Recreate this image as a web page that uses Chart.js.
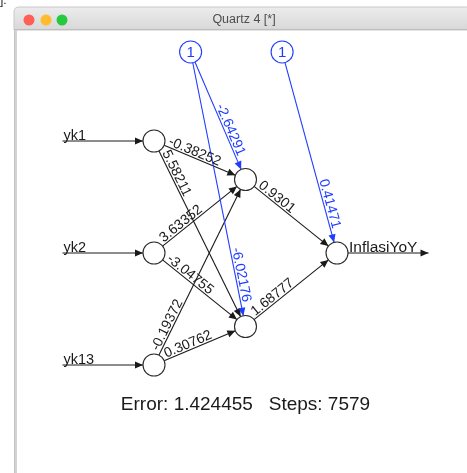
<!DOCTYPE html>
<html>
<head>
<meta charset="utf-8">
<script src="https://cdn.jsdelivr.net/npm/chart.js@4/dist/chart.umd.min.js"></script>
<style>
html,body{margin:0;padding:0;background:#fff;overflow:hidden;}
canvas{display:block;}
</style>
</head>
<body>
<canvas id="c" width="467" height="473"></canvas>
<script>
// ---- data ----
const inputNames = ['yk1', 'yk2', 'yk13'];
const outputNames = ['InflasiYoY'];
const hiddenCount = 2;
// weights[input][hidden]
const weightsInputHidden = [
  [-0.38252, 5.58211],
  [3.63352, -3.04755],
  [-0.19372, 0.30762]
];
const biasHidden = [-2.64291, -6.02176];
const weightsHiddenOutput = [0.9301, 1.68777];
const biasOutput = [0.41471];
const errorValue = 1.424455;
const stepsValue = 7579;
const windowTitle = 'Quartz 4 [*]';

// ---- layout (in layer / row units) ----
const interceptFactor = 0.4;
const hiddenSpacing = 1.3126;
const biasRow = -0.795;
function layerRows(n, spacing, center) {
  const rows = [];
  for (let i = 0; i < n; i++) rows.push(center + (i - (n - 1) / 2) * spacing);
  return rows;
}
const inputRows = layerRows(inputNames.length, 1, 1);
const hiddenRows = layerRows(hiddenCount, hiddenSpacing, 1);
const outputRows = layerRows(outputNames.length, 1, 1);

const NODE_R = 11;
const BLUE = '#1f3dff';
const INK = '#1a1a1a';
const FONT = '"Liberation Sans", Arial, Helvetica, sans-serif';

const inputPts = inputRows.map(r => ({x: 0, y: r}));
const hiddenPts = hiddenRows.map(r => ({x: 1, y: r}));
const outputPts = outputRows.map(r => ({x: 2, y: r}));
const biasPts = [{x: interceptFactor, y: biasRow}, {x: 1 + interceptFactor, y: biasRow}];

// edges: [fromPoint, toPoint, weight, isBias]
const edges = [];
inputPts.forEach((p, i) => hiddenPts.forEach((h, j) => edges.push([p, h, weightsInputHidden[i][j], false])));
hiddenPts.forEach((h, j) => outputPts.forEach((o) => edges.push([h, o, weightsHiddenOutput[j], false])));
hiddenPts.forEach((h, j) => edges.push([biasPts[0], h, biasHidden[j], true]));
outputPts.forEach((o, k) => edges.push([biasPts[1], o, biasOutput[k], true]));

function arrowHead(ctx, x, y, ang, color) {
  const L = 8, W = 3.6;
  ctx.save();
  ctx.translate(x, y);
  ctx.rotate(ang);
  ctx.beginPath();
  ctx.moveTo(0, 0);
  ctx.lineTo(-L, -W);
  ctx.lineTo(-L, W);
  ctx.closePath();
  ctx.fillStyle = color;
  ctx.fill();
  ctx.restore();
}
function arrowLine(ctx, x1, y1, x2, y2, color) {
  ctx.save();
  ctx.strokeStyle = color;
  ctx.lineWidth = 1.1;
  ctx.beginPath();
  ctx.moveTo(x1, y1);
  ctx.lineTo(x2, y2);
  ctx.stroke();
  ctx.restore();
  arrowHead(ctx, x2, y2, Math.atan2(y2 - y1, x2 - x1), color);
}

const chromePlugin = {
  id: 'chrome',
  beforeDraw(chart) {
    const ctx = chart.ctx;
    const W = chart.width, H = chart.height;
    ctx.save();
    ctx.fillStyle = '#ffffff';
    ctx.fillRect(0, 0, W, H);
    // stray text at the top-left corner
    ctx.fillStyle = '#222';
    ctx.font = '12px ' + FONT;
    ctx.textBaseline = 'alphabetic';
    ctx.fillText(']:', 0, 4);
    // window title bar
    const left = 14, top = 7, barB = 30, rad = 5;
    const g = ctx.createLinearGradient(0, top, 0, barB);
    g.addColorStop(0, '#ececec');
    g.addColorStop(1, '#d8d8d8');
    ctx.beginPath();
    ctx.moveTo(left, barB);
    ctx.lineTo(left, top + rad);
    ctx.quadraticCurveTo(left, top, left + rad, top);
    ctx.lineTo(W + 2, top);
    ctx.lineTo(W + 2, barB);
    ctx.closePath();
    ctx.fillStyle = g;
    ctx.fill();
    ctx.strokeStyle = '#c9c9c9';
    ctx.lineWidth = 1;
    ctx.stroke();
    ctx.fillStyle = '#bdbdbd';
    ctx.fillRect(left, barB - 1, W, 1);
    // left frame
    ctx.fillStyle = '#d3d3d3';
    ctx.fillRect(left, barB, 3, H - barB);
    ctx.fillStyle = '#c4c4c4';
    ctx.fillRect(left, barB, 1, H - barB);
    // traffic lights
    [['#fe5f57', 29], ['#febc2e', 46], ['#28c840', 62]].forEach(([c, x]) => {
      ctx.beginPath();
      ctx.arc(x, 20, 5.5, 0, Math.PI * 2);
      ctx.fillStyle = c;
      ctx.fill();
    });
    ctx.fillStyle = '#4d4d4d';
    ctx.font = '12.5px ' + FONT;
    ctx.textAlign = 'center';
    ctx.textBaseline = 'middle';
    ctx.fillText(windowTitle, 244, 20);
    ctx.restore();
  },
  beforeDatasetsDraw(chart) {
    const ctx = chart.ctx;
    const xs = chart.scales.x, ys = chart.scales.y;
    const P = p => [xs.getPixelForValue(p.x), ys.getPixelForValue(p.y)];
    // synapses
    edges.forEach(([a, b, w, isBias]) => {
      const [x1, y1] = P(a), [x2, y2] = P(b);
      const dx = x2 - x1, dy = y2 - y1, len = Math.hypot(dx, dy);
      const ux = dx / len, uy = dy / len;
      const col = isBias ? BLUE : INK;
      arrowLine(ctx, x1 + ux * NODE_R, y1 + uy * NODE_R, x2 - ux * NODE_R, y2 - uy * NODE_R, col);
    });
    // input arrows
    inputPts.forEach((p, i) => {
      const [x, y] = P(p);
      const x0 = xs.getPixelForValue(p.x - 1);
      arrowLine(ctx, x0, y, x - NODE_R, y, INK);
    });
    outputPts.forEach((p) => {
      const [x, y] = P(p);
      const x3 = xs.getPixelForValue(p.x + 1);
      arrowLine(ctx, x + NODE_R, y, x3, y, INK);
    });
  },
  afterDatasetsDraw(chart) {
    const ctx = chart.ctx;
    const xs = chart.scales.x, ys = chart.scales.y;
    const P = p => [xs.getPixelForValue(p.x), ys.getPixelForValue(p.y)];
    ctx.save();
    ctx.font = '14px ' + FONT;
    // weight labels
    edges.forEach(([a, b, w, isBias]) => {
      const [x1, y1] = P(a), [x2, y2] = P(b);
      const dx = x2 - x1, dy = y2 - y1, len = Math.hypot(dx, dy);
      const ang = Math.atan2(dy, dx);
      ctx.save();
      ctx.translate(x1, y1);
      ctx.rotate(ang);
      ctx.fillStyle = isBias ? BLUE : INK;
      ctx.textBaseline = 'alphabetic';
      if (isBias) {
        ctx.textAlign = 'right';
        ctx.fillText(String(w), len - 24, -2);
      } else {
        ctx.textAlign = 'left';
        ctx.fillText(String(w), 14, -2);
      }
      ctx.restore();
    });
    // bias node labels
    ctx.fillStyle = BLUE;
    ctx.textAlign = 'center';
    ctx.textBaseline = 'middle';
    ctx.font = '15px ' + FONT;
    biasPts.forEach(p => {
      const [x, y] = P(p);
      ctx.fillText('1', x, y + 1);
    });
    // input / output names
    ctx.fillStyle = INK;
    ctx.font = '14.5px ' + FONT;
    ctx.textBaseline = 'alphabetic';
    ctx.textAlign = 'left';
    inputPts.forEach((p, i) => {
      const y = ys.getPixelForValue(p.y);
      const x0 = xs.getPixelForValue(p.x - 1);
      ctx.fillText(inputNames[i], x0 + 1, y - 1);
    });
    ctx.font = '15.5px ' + FONT;
    outputPts.forEach((p, k) => {
      const [x, y] = P(p);
      ctx.fillText(outputNames[k], x + NODE_R + 1, y - 1);
    });
    // information line
    ctx.font = '19px ' + FONT;
    ctx.textAlign = 'center';
    ctx.fillText('Error: ' + errorValue + '   Steps: ' + stepsValue, xs.getPixelForValue(1), 410);
    ctx.restore();
  }
};

const nodeStyle = {pointRadius: NODE_R, pointHoverRadius: NODE_R, pointBackgroundColor: '#ffffff', pointBorderWidth: 1.1, showLine: false};

new Chart(document.getElementById('c'), {
  type: 'scatter',
  data: {
    datasets: [
      Object.assign({label: 'input', data: inputPts, pointBorderColor: '#2a2a2a'}, nodeStyle),
      Object.assign({label: 'hidden', data: hiddenPts, pointBorderColor: '#2a2a2a'}, nodeStyle),
      Object.assign({label: 'output', data: outputPts, pointBorderColor: '#2a2a2a'}, nodeStyle),
      Object.assign({label: 'bias', data: biasPts, pointBorderColor: BLUE}, nodeStyle)
    ]
  },
  options: {
    responsive: false,
    animation: false,
    events: [],
    layout: {padding: 0, autoPadding: false},
    plugins: {legend: {display: false}, tooltip: {enabled: false}},
    scales: {
      x: {type: 'linear', display: false, min: -1.6831, max: 3.4208},
      y: {type: 'linear', display: false, reverse: true, min: -1.2589, max: 2.9643}
    }
  },
  plugins: [chromePlugin]
});
</script>
</body>
</html>
